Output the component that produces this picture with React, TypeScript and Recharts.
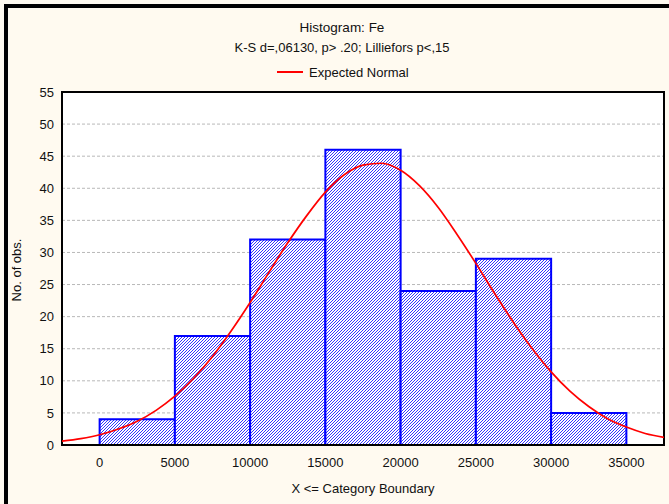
import React from 'react';
import { ComposedChart, Line, XAxis, YAxis, CartesianGrid, ReferenceArea } from 'recharts';

// Histogram bins (category boundaries) and counts
const binEdges = [0, 5000, 10000, 15000, 20000, 25000, 30000, 35000];
const counts = [4, 17, 32, 46, 24, 29, 5];

// Expected normal curve
const curveX = [
  -2500, -1250, 0, 1250, 2500, 3750, 5000, 6250, 7500, 8750, 10000, 11250, 12500, 13750, 15000,
  16250, 17500, 18750, 20000, 21250, 22500, 23750, 25000, 26250, 27500, 28750, 30000, 31250,
  32500, 33750, 35000, 36250, 37500,
];
const expectedNormal = [
  0.6, 1.0, 1.6, 2.5, 3.7, 5.4, 7.6, 10.4, 13.8, 17.8, 22.2, 26.9, 31.5, 35.7, 39.4,
  42.1, 43.6, 43.9, 42.8, 40.4, 37.0, 32.8, 28.3, 23.6, 19.1, 15.0, 11.4, 8.4,
  6.0, 4.1, 2.8, 1.8, 1.2,
];

const xTicks = [0, 5000, 10000, 15000, 20000, 25000, 30000, 35000];
const yTicks = [0, 5, 10, 15, 20, 25, 30, 35, 40, 45, 50, 55];
const xDomain = [-2500, 37500];
const yDomain = [0, 55];

const titleText = 'Histogram: Fe';
const subtitleText = 'K-S d=,06130, p> .20; Lilliefors p<,15';
const legendText = 'Expected Normal';
const xLabelText = 'X <= Category Boundary';
const yLabelText = 'No. of obs.';

const curveData = curveX.map((x, i) => ({ x, expected: expectedNormal[i] }));

const FONT = '"Liberation Sans", Arial, sans-serif';

export default function App() {
  return (
    <div style={{ position: 'absolute', left: 0, top: 0, width: 669, height: 504, background: '#FFFAF0', overflow: 'hidden' }}>
      <ComposedChart
        width={669}
        height={504}
        data={curveData}
        margin={{ top: 92, right: 5, bottom: 0, left: 0 }}
        style={{ position: 'absolute', left: 0, top: 0 }}
      >
        <defs>
          <pattern id="hatch" patternUnits="userSpaceOnUse" width="3" height="3">
            <rect x="0" y="0" width="3" height="3" fill="#ffffff" />
            <rect x="0" y="2" width="1" height="1" fill="#3535ff" />
            <rect x="1" y="1" width="1" height="1" fill="#3535ff" />
            <rect x="2" y="0" width="1" height="1" fill="#3535ff" />
          </pattern>
        </defs>
        <CartesianGrid
          vertical={false}
          horizontal
          stroke="#b8b8b8"
          strokeDasharray="3 2"
          fill="#ffffff"
          fillOpacity={1}
        />
        <XAxis
          dataKey="x"
          type="number"
          domain={xDomain}
          ticks={xTicks}
          allowDataOverflow
          height={59}
          tickLine={false}
          axisLine={{ stroke: '#000', strokeWidth: 2 }}
          tickMargin={7}
          tick={{ fill: '#111', fontSize: 13, fontFamily: FONT }}
        />
        <XAxis
          xAxisId="top"
          orientation="top"
          dataKey="x"
          type="number"
          domain={xDomain}
          ticks={xTicks}
          allowDataOverflow
          height={0}
          mirror
          tickSize={5}
          axisLine={false}
          tickLine={{ stroke: '#000', strokeWidth: 1.5 }}
          tickFormatter={() => ''}
        />
        <YAxis
          type="number"
          domain={yDomain}
          ticks={yTicks}
          allowDataOverflow
          width={62}
          tickLine={false}
          axisLine={{ stroke: '#000', strokeWidth: 2 }}
          tick={{ fill: '#111', fontSize: 13, fontFamily: FONT }}
        />
        {counts.map((c, i) => (
          <ReferenceArea
            key={i}
            x1={binEdges[i]}
            x2={binEdges[i + 1]}
            y1={0}
            y2={c}
            fill="url(#hatch)"
            fillOpacity={1}
            stroke="#0000ff"
            strokeWidth={2}
            ifOverflow="visible"
          />
        ))}
        <ReferenceArea
          x1={xDomain[0]}
          x2={xDomain[1]}
          y1={yDomain[0]}
          y2={yDomain[1]}
          fill="none"
          fillOpacity={0}
          stroke="#000"
          strokeWidth={2}
          ifOverflow="visible"
        />
        <Line
          dataKey="expected"
          type="monotone"
          stroke="#ff0000"
          strokeWidth={1.7}
          dot={false}
          activeDot={false}
          isAnimationActive={false}
          zIndex={600}
        />
      </ComposedChart>
      <svg width={669} height={504} style={{ position: 'absolute', left: 0, top: 0, pointerEvents: 'none' }}>
        <rect x={4} y={4} width={665} height={4} fill="#000" />
        <rect x={4} y={4} width={4} height={500} fill="#000" />
        <g fontFamily={FONT} fontSize={13} fill="#111">
          <text x={342} y={32} textAnchor="middle" fontSize={13.5}>{titleText}</text>
          <text x={342} y={52} textAnchor="middle">{subtitleText}</text>
          <line x1={277} y1={72} x2={303} y2={72} stroke="#ff0000" strokeWidth={2} />
          <text x={309} y={77}>{legendText}</text>
          <text x={363} y={493} textAnchor="middle">{xLabelText}</text>
          <text x={21} y={270} textAnchor="middle" transform="rotate(-90 21 270)">{yLabelText}</text>
        </g>
      </svg>
    </div>
  );
}
